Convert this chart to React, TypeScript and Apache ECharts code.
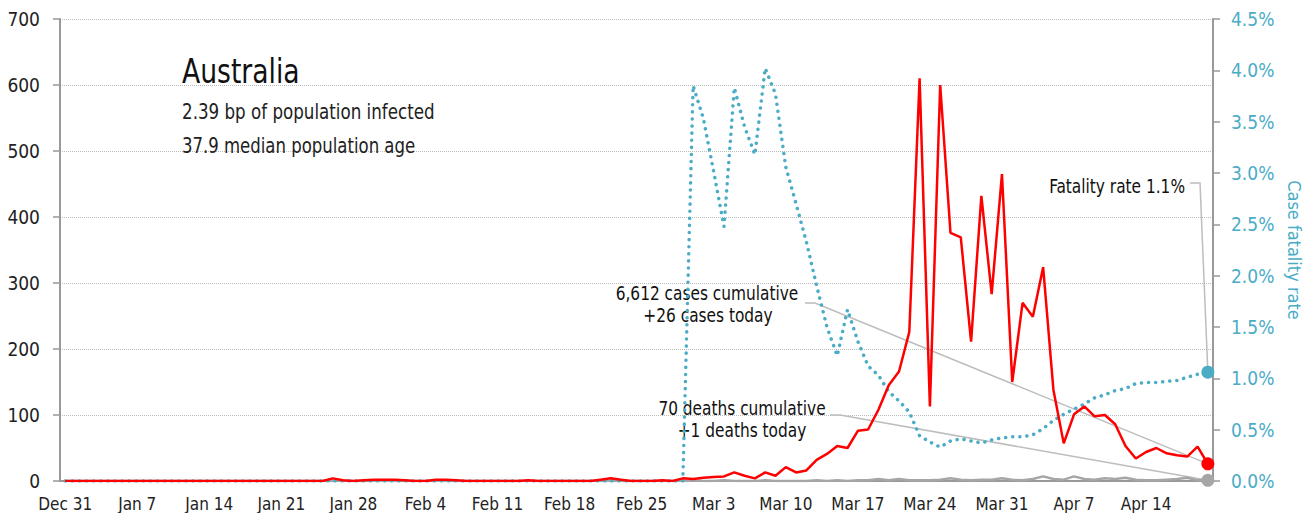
import React, { useEffect, useRef } from "react";
import * as echarts from "echarts";

const MONTHS = ["Jan", "Feb", "Mar", "Apr", "May", "Jun", "Jul", "Aug", "Sep", "Oct", "Nov", "Dec"];
const START = { y: 2019, m: 11, d: 31 };
const DAYS = 112;

// Daily new cases (left axis)
const cases = [
  0, 0, 0, 0, 0, 0, 0, 0, 0, 0, 0, 0, 0, 0, 0, 0, 0, 0, 0, 0, 0, 0, 0, 0, 0, 0,
  4, 1, 0, 1, 2, 2, 2, 1, 0, 0, 2, 2, 1, 0, 0, 0, 0, 0, 0, 1, 0, 0, 0, 0, 0, 0,
  2, 4, 2, 0, 0, 0, 1, 0,
  4, 3, 5, 6, 7, 13, 8, 4, 13, 8, 21, 13, 16, 32, 41, 53, 50, 76, 78, 108,
  145, 166, 226, 610, 113, 600, 376, 369, 211, 432, 283, 465, 150, 270, 249, 324,
  138, 57, 101, 113, 98, 100, 86, 53, 34, 44, 50, 42, 39, 37, 52, 26,
];

// Daily new deaths (left axis)
const deaths = [
  0, 0, 0, 0, 0, 0, 0, 0, 0, 0, 0, 0, 0, 0, 0, 0, 0, 0, 0, 0, 0, 0, 0, 0, 0, 0,
  0, 0, 0, 0, 0, 0, 0, 0, 0, 0, 0, 0, 0, 0, 0, 0, 0, 0, 0, 0, 0, 0, 0, 0, 0, 0,
  0, 0, 0, 0, 0, 0, 0, 0,
  0, 1, 0, 0, 1, 0, 0, 0, 1, 0, 0, 0, 0, 1, 0, 1, 0, 1, 1, 3,
  1, 3, 1, 1, 1, 2, 4, 2, 1, 2, 2, 4, 2, 1, 3, 7,
  3, 2, 7, 3, 2, 4, 3, 5, 2, 1, 1, 2, 3, 5, 1, 1,
];

// Case fatality rate, % (right axis)
const cfr = [
  0, 0, 0, 0, 0, 0, 0, 0, 0, 0, 0, 0, 0, 0, 0, 0, 0, 0, 0, 0, 0, 0, 0, 0, 0, 0,
  0, 0, 0, 0, 0, 0, 0, 0, 0, 0, 0, 0, 0, 0, 0, 0, 0, 0, 0, 0, 0, 0, 0, 0, 0, 0,
  0, 0, 0, 0, 0, 0, 0, 0,
  0, 3.85, 3.53, 3.01, 2.48, 3.83, 3.45, 3.18, 4.02, 3.77, 3.06, 2.7, 2.33, 1.9, 1.5, 1.22, 1.67, 1.36, 1.12, 1.03,
  0.87, 0.78, 0.67, 0.44, 0.38, 0.33, 0.39, 0.41, 0.39, 0.37, 0.4, 0.42, 0.43, 0.43, 0.45, 0.51,
  0.59, 0.65, 0.7, 0.75, 0.81, 0.84, 0.88, 0.9, 0.95, 0.96, 0.96, 0.97, 0.98, 1.01, 1.04, 1.06,
];

const TITLE = "Australia";
const SUB1 = "2.39 bp of population infected";
const SUB2 = "37.9 median population age";
const CASES_NOTE = ["6,612 cases cumulative", "+26 cases today"];
const DEATHS_NOTE = ["70 deaths cumulative", "+1 deaths today"];
const CFR_NOTE = "Fatality rate 1.1%";

const FONT = "'Liberation Sans Narrow', 'DejaVu Sans Condensed', 'Roboto', sans-serif";
const RED = "#ff0000";
const TEAL = "#4bacc6";
const GREY = "#a6a6a6";
const LEADER = "#bdbdbd";

function buildCategories(): string[] {
  const out: string[] = [];
  const dt = new Date(START.y, START.m, START.d);
  for (let i = 0; i < DAYS; i++) {
    out.push(MONTHS[dt.getMonth()] + " " + dt.getDate());
    dt.setDate(dt.getDate() + 1);
  }
  return out;
}

function withEnd(arr: number[], color: string) {
  return arr.map((v, i) =>
    i === arr.length - 1
      ? { value: v, symbol: "circle", symbolSize: 13, itemStyle: { color } }
      : v
  );
}

export default function App() {
  const ref = useRef<HTMLDivElement>(null);
  useEffect(() => {
    if (!ref.current) return;
    const chart = echarts.init(ref.current, undefined, { renderer: "svg" });
    const cats = buildCategories();
    chart.setOption({
      animation: false,
      backgroundColor: "#fff",
      grid: { left: 52, right: 95, top: 11, bottom: 32, containLabel: false, outerBoundsMode: "none" },
      xAxis: {
        type: "category",
        data: cats,
        boundaryGap: true,
        axisLine: { lineStyle: { color: "#999", width: 2 } },
        axisTick: { interval: 6, length: 7, lineStyle: { color: "#999", width: 1.5 } },
        axisLabel: { interval: 6, margin: 14, fontFamily: FONT, fontSize: 17, color: "#222" },
        splitLine: { show: false },
      },
      yAxis: [
        {
          type: "value",
          min: 0,
          max: 700,
          interval: 100,
          axisLine: { show: true, lineStyle: { color: "#999", width: 2 } },
          axisTick: { show: true, length: 7, lineStyle: { color: "#999", width: 1.5 } },
          axisLabel: { margin: 20, fontFamily: FONT, fontSize: 19, color: "#222" },
          splitLine: { show: true, lineStyle: { color: "#bbb", type: "dotted", width: 1 } },
        },
        {
          type: "value",
          min: 0,
          max: 4.5,
          interval: 0.5,
          position: "right",
          name: "Case fatality rate",
          nameLocation: "middle",
          nameGap: 70,
          nameRotate: -90,
          nameTextStyle: { fontFamily: FONT, fontSize: 18, color: TEAL },
          axisLine: { show: true, lineStyle: { color: "#999", width: 2 } },
          axisTick: { show: true, length: 7, lineStyle: { color: "#999", width: 1.5 } },
          axisLabel: {
            margin: 18,
            fontFamily: FONT,
            fontSize: 19,
            color: TEAL,
            formatter: (v: number) => v.toFixed(1) + "%",
          },
          splitLine: { show: false },
        },
      ],
      series: [
        {
          name: "Deaths",
          type: "line",
          yAxisIndex: 0,
          data: withEnd(deaths, GREY),
          symbol: "none",
          showSymbol: true,
          showAllSymbol: true,
          lineStyle: { color: GREY, width: 2.5 },
          itemStyle: { color: GREY },
          z: 2,
        },
        {
          name: "Case fatality rate",
          type: "line",
          yAxisIndex: 1,
          data: withEnd(cfr, TEAL),
          symbol: "none",
          showSymbol: true,
          showAllSymbol: true,
          lineStyle: { color: TEAL, width: 3.5, type: [0.1, 7], cap: "round" },
          itemStyle: { color: TEAL },
          z: 3,
        },
        {
          name: "Cases",
          type: "line",
          yAxisIndex: 0,
          data: withEnd(cases, RED),
          symbol: "none",
          showSymbol: true,
          showAllSymbol: true,
          lineStyle: { color: RED, width: 2.5 },
          itemStyle: { color: RED },
          z: 4,
        },
      ],
    });

    const last = DAYS - 1;
    const pCase = chart.convertToPixel({ xAxisIndex: 0, yAxisIndex: 0 }, [last, cases[last]]) as number[];
    const pDeath = chart.convertToPixel({ xAxisIndex: 0, yAxisIndex: 0 }, [last, deaths[last]]) as number[];
    const pCfr = chart.convertToPixel({ xAxisIndex: 0, yAxisIndex: 1 }, [last, cfr[last]]) as number[];

    const noteStyle = { fontFamily: FONT, fontSize: 19, fill: "#111" };
    const SX = 0.9;
    chart.setOption({
      graphic: [
        { type: "text", x: 174, y: 46, scaleX: 0.87, style: { text: TITLE, fontFamily: FONT, fontSize: 34, fill: "#111" } },
        { type: "text", x: 174, y: 94, scaleX: 0.885, style: { text: SUB1, fontFamily: FONT, fontSize: 21, fill: "#222" } },
        { type: "text", x: 174, y: 128, scaleX: 0.875, style: { text: SUB2, fontFamily: FONT, fontSize: 21, fill: "#222" } },
        {
          type: "polyline",
          z: 1,
          shape: { points: [[1182, 175], [1192, 175], [pCfr[0], pCfr[1]]] },
          style: { stroke: LEADER, lineWidth: 1.5, fill: "none" },
        },
        {
          type: "polyline",
          z: 1,
          shape: { points: [[797, 295], [807, 295], [pCase[0], pCase[1]]] },
          style: { stroke: LEADER, lineWidth: 1.5, fill: "none" },
        },
        {
          type: "polyline",
          z: 1,
          shape: { points: [[822, 407], [832, 407], [pDeath[0], pDeath[1]]] },
          style: { stroke: LEADER, lineWidth: 1.5, fill: "none" },
        },
        {
          type: "text",
          x: 1177,
          y: 178,
          scaleX: SX,
          style: { text: CFR_NOTE, ...noteStyle, align: "right", verticalAlign: "middle" },
        },
        {
          type: "text",
          x: 699,
          y: 285,
          scaleX: SX,
          style: { text: CASES_NOTE[0], ...noteStyle, align: "center", verticalAlign: "middle" },
        },
        {
          type: "text",
          x: 700,
          y: 307,
          scaleX: SX,
          style: { text: CASES_NOTE[1], ...noteStyle, align: "center", verticalAlign: "middle" },
        },
        {
          type: "text",
          x: 734,
          y: 400,
          scaleX: SX,
          style: { text: DEATHS_NOTE[0], ...noteStyle, align: "center", verticalAlign: "middle" },
        },
        {
          type: "text",
          x: 734,
          y: 422,
          scaleX: SX,
          style: { text: DEATHS_NOTE[1], ...noteStyle, align: "center", verticalAlign: "middle" },
        },
      ],
    });

    return () => chart.dispose();
  }, []);

  return <div ref={ref} style={{ width: 1300, height: 505 }} />;
}
